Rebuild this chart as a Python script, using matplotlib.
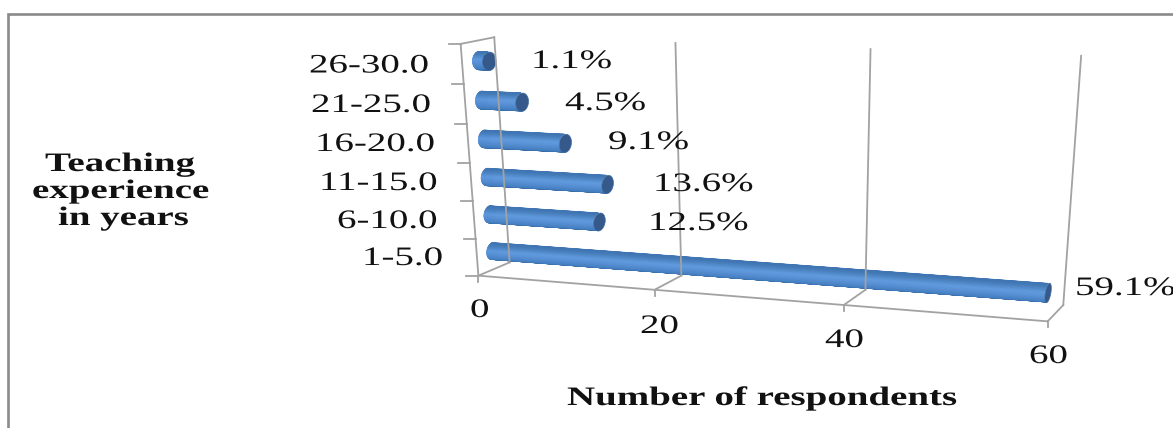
"""
Horizontal cylinder chart of teaching experience, drawn in a perspective box.
"""

import numpy as np
import matplotlib

matplotlib.use("Agg")
import matplotlib.pyplot as plt
from matplotlib.collections import PolyCollection
from matplotlib.patheffects import AbstractPathEffect
from matplotlib.transforms import Affine2D

categories = ["1-5.0", "6-10.0", "11-15.0", "16-20.0", "21-25.0", "26-30.0"]
shares = [59.1, 12.5, 13.6, 9.1, 4.5, 1.1]
x_ticks = [0, 20, 40, 60]
x_title = "Number of respondents"
y_title = ["Teaching", "experience", "in years"]

# Left edge and baseline of each text, in figure pixels
category_pos = [(362, 265), (337, 228), (319, 190), (315, 151), (311, 112), (309, 72.5)]
share_pos = [(1075, 295), (648, 230), (653, 191), (608, 149), (565, 110), (531, 68)]
x_tick_pos = [(470, 317), (640, 333), (825, 347), (1029, 363)]
y_title_pos = [(45, 171), (32, 198), (58, 225)]

GRID = "#a2a2a2"
FRAME = "#8a8a8a"
CAP = "#35598a"
WIDTH_X = 1.46
X_MAX = 60
N_CATS = len(categories)

# Box corners (value, category position, depth) and where they land on the figure
box_points = np.array([
    [0, 0, 0], [20, 0, 0], [40, 0, 0], [60, 0, 0],
    [0, 0, 1], [20, 0, 1], [40, 0, 1], [60, 0, 1],
    [0, 6, 0], [0, 6, 1], [20, 6, 1], [40, 6, 1], [60, 6, 1],
], dtype=float)
box_pixels = np.array([
    [479, 275.7], [654, 290], [843, 306], [1048, 321],
    [509, 263], [682, 275], [866, 288], [1063, 306],
    [461, 43], [494, 38], [675, 43], [871, 49], [1081, 56],
], dtype=float)


def fit_camera(points, pixels):
    # Direct linear transform, solved on scaled coordinates
    rows = []
    scale = np.array([X_MAX, N_CATS, 1.0])
    for p, (u, v) in zip(points / scale, pixels / 1000):
        h = [*p, 1]
        rows.append([*h, 0, 0, 0, 0, *[-u * c for c in h]])
        rows.append([0, 0, 0, 0, *h, *[-v * c for c in h]])
    _, _, vt = np.linalg.svd(np.array(rows))
    return vt[-1].reshape(3, 4)


CAMERA = fit_camera(box_points, box_pixels)


def project(x, h, d):
    x, h, d = np.broadcast_arrays(x, h, d)
    pts = np.stack([x / X_MAX, h / N_CATS, d, np.ones(x.shape)])
    u, v, w = CAMERA @ pts
    return np.stack([u / w * 1000, v / w * 1000], axis=-1)


class StretchX(AbstractPathEffect):
    # Widens glyphs sideways, keeping the text's origin in place
    def __init__(self, factor):
        super().__init__()
        self.factor = factor

    def draw_path(self, renderer, gc, tpath, affine, rgbFace=None):
        mtx = affine.get_matrix().copy()
        mtx[0, 0] *= self.factor
        renderer.draw_path(gc, tpath, Affine2D(mtx), rgbFace)


def put_text(ax, x, y, s, size=19.2, bold=False):
    ax.text(x, y, s, family="Liberation Serif", fontsize=size,
            fontweight="bold" if bold else "normal", color="#111111",
            ha="left", va="baseline", clip_on=False,
            path_effects=[StretchX(WIDTH_X)])


def box_line(ax, p0, p1):
    a = project(*p0)
    b = project(*p1)
    ax.plot([a[0], b[0]], [a[1], b[1]], color=GRID, lw=1.3,
            solid_capstyle="projecting")


def draw_box(ax):
    # Left wall
    box_line(ax, (0, 0, 0), (0, N_CATS, 0))
    box_line(ax, (0, N_CATS, 0), (0, N_CATS, 1))
    box_line(ax, (0, N_CATS, 1), (0, 0, 1))
    box_line(ax, (0, 0, 1), (0, 0, 0))
    # Floor front edge, then depth and wall lines at each tick
    box_line(ax, (0, 0, 0), (X_MAX, 0, 0))
    for tick in x_ticks[1:]:
        box_line(ax, (tick, 0, 0), (tick, 0, 1))
        box_line(ax, (tick, 0, 1), (tick, N_CATS, 1))
    for tick in x_ticks:
        a = project(tick, 0, 0)
        ax.plot([a[0], a[0]], [a[1], a[1] + 6], color=GRID, lw=1.3)
    for i in range(N_CATS + 1):
        a = project(0, i, 0)
        ax.plot([a[0] - 12, a[0]], [a[1], a[1]], color=GRID, lw=1.3)


def draw_cylinder(ax, value, pos, r_h=0.23, r_d=0.2):
    centre = pos + 0.5
    angles = np.linspace(-np.pi / 2, np.pi / 2, 41)
    ring = np.linspace(0, 2 * np.pi, 49)

    # Rounded far end goes first so the body covers most of it
    left = project(0.0, centre + r_h * np.sin(ring), 0.5 + r_d * np.cos(ring))
    ax.add_collection(PolyCollection([left], facecolors="#4479b8", edgecolors="none"))

    shade_at = [-1.0, -0.7, 0.0, 0.35, 0.8, 1.0]
    shade_r = [0.20, 0.27, 0.35, 0.37, 0.28, 0.25]
    shade_g = [0.40, 0.50, 0.57, 0.60, 0.50, 0.46]
    shade_b = [0.62, 0.76, 0.84, 0.87, 0.74, 0.70]

    quads = []
    colors = []
    for a0, a1 in zip(angles[:-1], angles[1:]):
        low = project(0.0, centre + r_h * np.sin([a0, a1]), 0.5 - r_d * np.cos([a0, a1]))
        high = project(value, centre + r_h * np.sin([a1, a0]), 0.5 - r_d * np.cos([a1, a0]))
        quads.append(np.vstack([low, high]))
        s = np.sin((a0 + a1) / 2)
        colors.append((np.interp(s, shade_at, shade_r),
                       np.interp(s, shade_at, shade_g),
                       np.interp(s, shade_at, shade_b)))
    ax.add_collection(PolyCollection(quads, facecolors=colors, edgecolors=colors, linewidths=0.4))

    # Flat end facing the viewer
    end = project(value, centre + r_h * np.sin(ring), 0.5 + r_d * np.cos(ring))
    ax.add_collection(PolyCollection([end], facecolors=CAP, edgecolors="#3f6ca3", linewidths=0.5))


def main():
    fig = plt.figure(figsize=(11.73, 4.28), dpi=100)
    ax = fig.add_axes([0, 0, 1, 1])
    ax.set_xlim(0, 1173)
    ax.set_ylim(428, 0)
    ax.axis("off")

    # Outer chart frame, open to the right and below
    ax.plot([8, 8, 1173], [428, 14, 14], color=FRAME, lw=1.9, solid_joinstyle="miter")

    draw_box(ax)
    for i, value in enumerate(shares):
        draw_cylinder(ax, value, i)

    for name, (x, y) in zip(categories, category_pos):
        put_text(ax, x, y, name)
    for value, (x, y) in zip(shares, share_pos):
        put_text(ax, x, y, f"{value}%")
    for tick, (x, y) in zip(x_ticks, x_tick_pos):
        put_text(ax, x, y, str(tick))
    for line, (x, y) in zip(y_title, y_title_pos):
        put_text(ax, x, y, line, bold=True)
    put_text(ax, 567, 405, x_title, bold=True)

    fig.savefig("out.png", dpi=100)


if __name__ == "__main__":
    main()
